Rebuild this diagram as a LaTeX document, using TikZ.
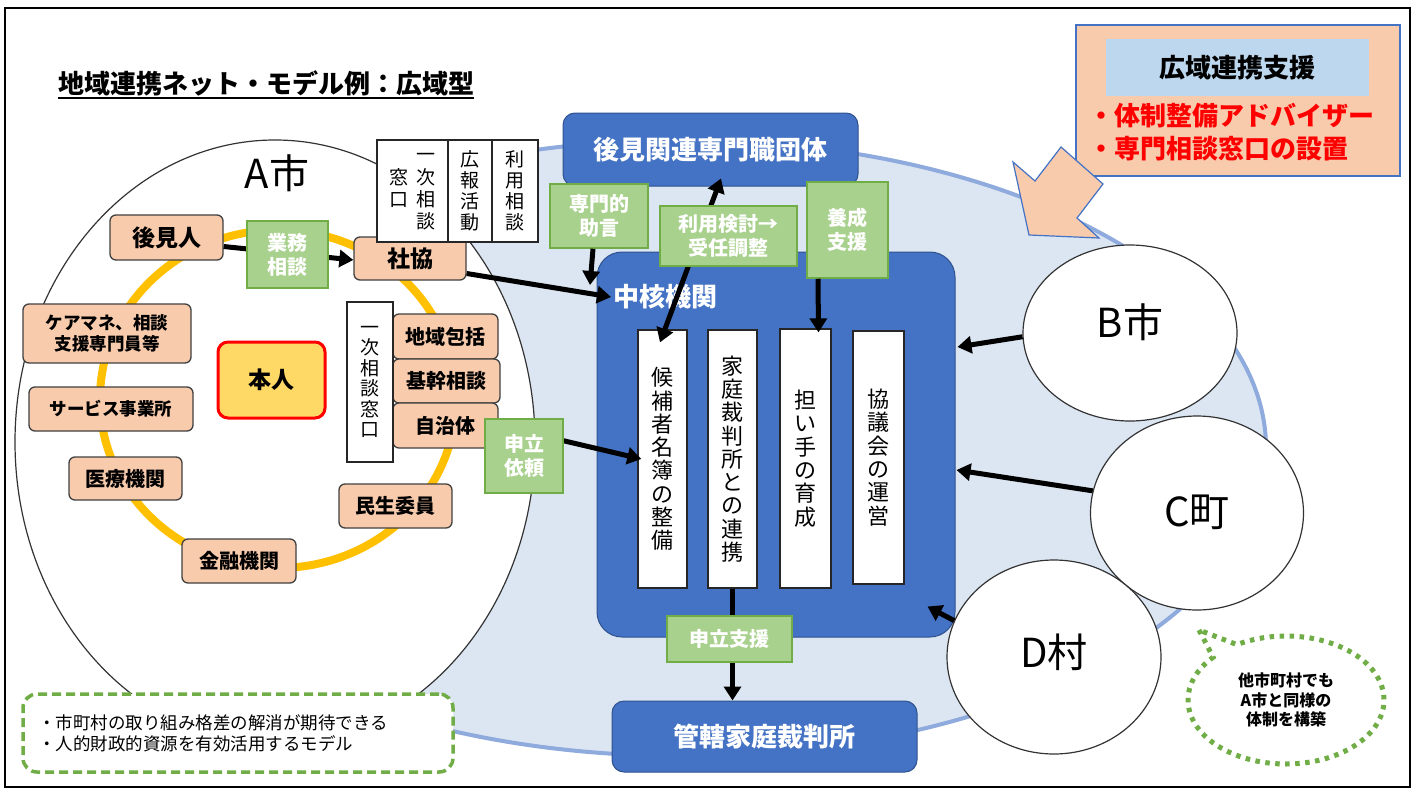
\documentclass[tikz,border=0pt]{standalone}
\usepackage{fontspec}
\setmainfont{Noto Sans CJK JP}
\usetikzlibrary{arrows.meta,shapes.geometric,shapes.callouts}
\definecolor{blueD}{HTML}{4472C4}
\definecolor{blueB}{HTML}{2F528F}
\definecolor{blueL}{HTML}{DCE6F2}
\definecolor{blueE}{HTML}{8FAADC}
\definecolor{greenF}{HTML}{A9D18E}
\definecolor{greenD}{HTML}{70AD47}
\definecolor{orangeF}{HTML}{F8CBAD}
\definecolor{ringC}{HTML}{FFC000}
\definecolor{yellowF}{HTML}{FFD966}
\definecolor{skyF}{HTML}{BDD7EE}
\newcommand{\mysz}[2]{\fontsize{#1}{#2}\selectfont}
\begin{document}
\begin{tikzpicture}[x=1pt,y=-1pt,
  obox/.style={draw=black!75,fill=orangeF,rounded corners=6pt,line width=1.3pt,inner sep=0pt,align=center,font=\bfseries\mysz{20}{24}},
  gbox/.style={draw=greenD,fill=greenF,line width=1.5pt,inner sep=0pt,text=white,align=center,font=\bfseries\mysz{20}{24}},
  bbox/.style={draw=blueB,fill=blueD,rounded corners=12pt,line width=1pt,inner sep=0pt,text=white,font=\bfseries\mysz{26}{30}},
  wbox/.style={draw=black!85,fill=white,line width=1.3pt,inner sep=0pt,align=center,font=\mysz{22}{23.3}},
  sbox/.style={draw=black!85,fill=white,line width=1.2pt,inner sep=0pt,align=center,font=\mysz{19}{21}},
  town/.style={ellipse,draw=black!80,fill=white,line width=1.2pt,inner sep=0pt},
  townlabel/.style={font=\mysz{40}{44},inner sep=0pt},
  arr/.style={line width=5pt,-{Triangle[length=14pt,width=17pt]}},
  darr/.style={line width=5pt,{Triangle[length=14pt,width=17pt]}-{Triangle[length=14pt,width=17pt]}},
]
\useasboundingbox (0,0) rectangle (1416,795);

% regional ellipse
\node[ellipse,draw=blueE,fill=blueL,line width=4pt,minimum width=1166pt,minimum height=616pt,inner sep=0pt] (region) at (683,448) {};

% A city
\node[town,minimum width=520pt,minimum height=604pt] (Acity) at (275,442) {};
\node[townlabel] (Alabel) at (277,173) {A市};
\node[ellipse,draw=ringC,line width=8pt,minimum width=356pt,minimum height=338pt,inner sep=0pt] (ring) at (278,399) {};

% other towns
\node[town,minimum width=214pt,minimum height=176pt] (B) at (1130,333) {};
\node[town,minimum width=213pt,minimum height=194pt] (C) at (1197,513) {};
\node[town,minimum width=214pt,minimum height=194pt] (D) at (1054,657) {};
\node[townlabel] (Blabel) at (1130,322) {B市};
\node[townlabel] (Clabel) at (1197,512) {C町};
\node[townlabel] (Dlabel) at (1054,652) {D村};

% orange boxes
\node[obox,minimum width=113pt,minimum height=45pt,font=\bfseries\mysz{23}{26}] (kk) at (166.5,237.5) {後見人};
\node[obox,minimum width=112pt,minimum height=43pt,font=\bfseries\mysz{23}{26}] (shakyo) at (410,258.5) {社協};
\node[obox,minimum width=168pt,minimum height=59pt,font=\bfseries\mysz{17.5}{21}] (caremane) at (107,333.5) {ケアマネ、相談\\支援専門員等};
\node[obox,minimum width=164pt,minimum height=44pt,font=\bfseries\mysz{17.5}{21}] (service) at (111,409) {サービス事業所};
\node[obox,minimum width=113pt,minimum height=43pt] (iryo) at (125.5,478.5) {医療機関};
\node[obox,minimum width=114pt,minimum height=44pt] (kinyu) at (239,561) {金融機関};
\node[obox,minimum width=113pt,minimum height=44pt] (minsei) at (395.5,506) {民生委員};
\node[obox,minimum width=105pt,minimum height=45pt] (houkatsu) at (445.5,336.5) {地域包括};
\node[obox,minimum width=107pt,minimum height=44pt] (kikan) at (446.5,381) {基幹相談};
\node[obox,minimum width=105pt,minimum height=45pt] (jichitai) at (445.5,425.5) {自治体};
\node[fill=yellowF,draw=red,line width=3pt,rounded corners=10pt,minimum width=107pt,minimum height=76pt,inner sep=0pt,font=\bfseries\mysz{23}{26}] (honnin) at (271.5,380) {本人};
\node[sbox,minimum width=46pt,minimum height=160pt,font=\mysz{19}{20.5}] (ichiji) at (370,382) {一\\次\\相\\談\\窓\\口};

% top white boxes
\node[sbox,minimum width=71pt,minimum height=102pt] (topA) at (412.5,191) {\mysz{19}{21.5}\begin{tabular}{@{}c@{\hspace{8pt}}c@{}} & 一\\ 窓 & 次\\ 口 & 相\\ & 談\end{tabular}};
\node[sbox,minimum width=44pt,minimum height=102pt] (topB) at (470,191) {広\\報\\活\\動};
\node[sbox,minimum width=46pt,minimum height=102pt] (topC) at (515,191) {利\\用\\相\\談};

% blue boxes
\node[bbox,minimum width=295pt,minimum height=73pt] (kouken) at (710.5,149.5) {後見関連専門職団体};
\node[bbox,rounded corners=25pt,minimum width=358pt,minimum height=385pt] (chukaku) at (776,444.5) {};
\node[bbox,minimum width=305pt,minimum height=71pt] (kankatsu) at (764.5,736.5) {管轄家庭裁判所};
\node[anchor=west,inner sep=2pt,text=white,font=\bfseries\mysz{26}{30}] (chuLabel) at (611,297) {中核機関};

% white tall boxes
\node[wbox,minimum width=49pt,minimum height=258pt] (box1) at (662.5,459) {候\\補\\者\\名\\簿\\の\\整\\備};
\node[wbox,minimum width=49pt,minimum height=258pt] (box2) at (732.5,459) {家\\庭\\裁\\判\\所\\と\\の\\連\\携};
\node[wbox,minimum width=51pt,minimum height=259pt] (box3) at (805.5,458.5) {担\\い\\手\\の\\育\\成};
\node[wbox,minimum width=51pt,minimum height=253pt] (box4) at (878.5,457.5) {協\\議\\会\\の\\運\\営};

% arrows
\draw[arr] ([yshift=-9pt]kk.east) -- ([yshift=-1.5pt]shakyo.west);
\draw[arr] ([yshift=-15pt]shakyo.east) -- (chuLabel.west);
\coordinate (senEnd) at (590,285);
\draw[darr] ([xshift=-2.5pt,yshift=-13pt]box1.north) -- ([xshift=10.5pt,yshift=8pt]kouken.south);
\draw[arr] (box2.south) -- (box2.south |- kankatsu.north);
\draw[arr] (jichitai.east) -- ([xshift=4pt]box1.west);
\draw[arr] (B.182) -- ([xshift=2pt,yshift=97.5pt]chukaku.east);
\draw[arr] (C.168) -- ([xshift=1pt,yshift=-25.5pt]chukaku.east);
\draw[arr] (D.160) -- ([xshift=-28pt,yshift=31pt]chukaku.south east);

% green boxes
\node[gbox,minimum width=81pt,minimum height=67pt] (gyomu) at (287.5,254.5) {業務\\相談};
\node[gbox,minimum width=78pt,minimum height=74pt] (irai) at (524,456) {申立\\依頼};
\node[gbox,minimum width=98pt,minimum height=64pt] (senmon) at (599,216) {専門的\\助言};
\node[gbox,minimum width=137pt,minimum height=60pt] (riyo) at (728.5,236) {利用検討→\\受任調整};
\node[gbox,minimum width=81pt,minimum height=96pt] (yousei) at (847.5,230) {養成\\支援};
\node[gbox,minimum width=125pt,minimum height=46pt] (mskien) at (729.5,639) {申立支援};
\draw[arr] ([xshift=-6pt]senmon.south) -- (senEnd);
\draw[arr] ([xshift=-29.5pt]yousei.south) -- ([xshift=13pt,yshift=-4pt]box3.north);

% wide-area support
\node[draw=blueD,fill=orangeF,line width=1.3pt,minimum width=324pt,minimum height=151pt,inner sep=0pt] (kouiki) at (1238,100.5) {};
\node[fill=skyF,minimum width=263pt,minimum height=57pt,inner sep=0pt,font=\bfseries\mysz{26}{30}] (kouikiT) at (1237.5,67.5) {広域連携支援};
\node[anchor=west,inner sep=0pt,text=red,font=\bfseries\mysz{26}{30}] (adv) at (1088,116) {・体制整備アドバイザー};
\node[anchor=west,inner sep=0pt,text=red,font=\bfseries\mysz{26}{30}] (madoguchi) at (1088,149) {・専門相談窓口の設置};
\draw[fill=orangeF,draw=blueD,line width=1.2pt] (1013,162) -- (1035,181) -- (1061,147) -- (1103,184) -- (1077,218) -- (1099,238) -- (1029,235) -- cycle;

% notes
\node[draw=greenD,line width=3.5pt,dash pattern=on 9pt off 5pt,rounded corners=14pt,fill=white,minimum width=430pt,minimum height=78pt,text width=400pt,inner xsep=15pt,inner ysep=0pt,align=left,font=\mysz{17.5}{21}] (note) at (238,733) {・市町村の取り組み格差の解消が期待できる\\・人的財政的資源を有効活用するモデル};
\node[ellipse callout,draw=greenD,line width=5pt,dash pattern=on 4.5pt off 5.5pt,fill=white,minimum width=196pt,minimum height=128pt,inner sep=0pt,callout absolute pointer={(1199,630)},callout pointer arc=18,align=center,font=\bfseries\mysz{16}{19.5}] (bubble) at (1286,700) {他市町村でも\\A市と同様の\\体制を構築};

% title
\node[inner sep=0pt,font=\bfseries\mysz{26}{30}] (title) at (266,83) {地域連携ネット・モデル例：広域型};
\draw[line width=1.5pt] ([yshift=-2pt]title.south west) -- ([yshift=-2pt]title.south east);

% frame
\draw[line width=1.5pt] (5,8) rectangle (1410,787);
\end{tikzpicture}
\end{document}
